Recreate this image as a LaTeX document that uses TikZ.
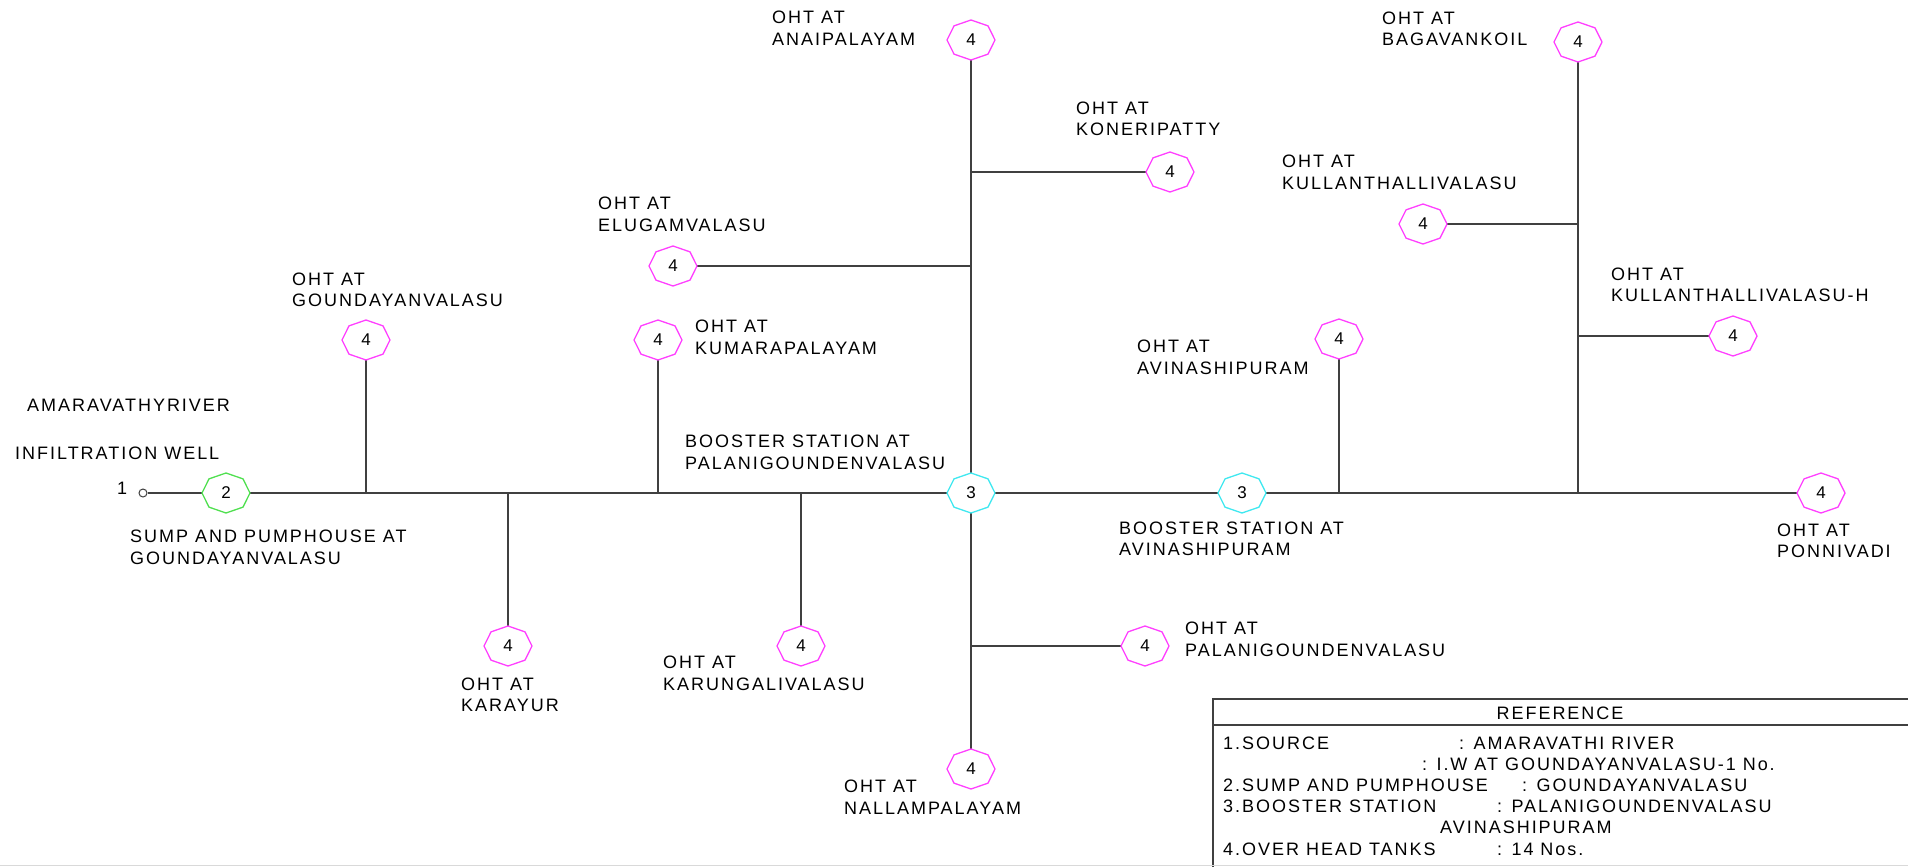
\documentclass[tikz,border=0pt]{standalone}
\usepackage{fontspec}
\setmainfont{Liberation Sans}[LetterSpace=11]
\newfontfamily\numfont{Liberation Sans}
\usetikzlibrary{calc}
\definecolor{ln}{HTML}{404040}
\definecolor{mag}{HTML}{FF40FF}
\definecolor{cya}{HTML}{40E8F0}
\definecolor{grn}{HTML}{50E050}
\tikzset{
 lbl/.style={anchor=west, inner sep=0pt, align=left, font=\fontsize{18}{21.5}\selectfont},
 tank/.style={rectangle, minimum width=48pt, minimum height=40pt, inner sep=0pt, font=\numfont\fontsize{17}{20}\selectfont},
 pipe/.style={draw=ln, line width=1.6pt},
 boxline/.style={draw=ln, line width=1.3pt},
}
\newcommand\octa[2]{\draw[#2, line width=1.3pt] ([shift={(#1.center)}]0:24pt and 20pt) \foreach \a in {45,90,...,315}{ -- ([shift={(#1.center)}]\a:24pt and 20pt)} -- cycle;}
\begin{document}
\begin{tikzpicture}[x=1pt,y=-1pt]
\useasboundingbox (0,0) rectangle (1908,867);
\fill[white] (0,0) rectangle (1908,867);
% nodes
\node[circle, draw=ln, line width=1pt, minimum size=8pt, inner sep=0pt] (w) at (143,493) {};
\node[tank] (n2) at (226,493) {2};
\node[tank] (oG) at (366,340) {4};
\node[tank] (oKy) at (508,646) {4};
\node[tank] (oKu) at (658,340) {4};
\node[tank] (oKg) at (801,646) {4};
\node[tank] (n3a) at (971,493) {3};
\node[tank] (oA) at (971,40) {4};
\node[tank] (oKo) at (1170,172) {4};
\node[tank] (oE) at (673,266) {4};
\node[tank] (oPG) at (1145,646) {4};
\node[tank] (oN) at (971,769) {4};
\node[tank] (n3b) at (1242,493) {3};
\node[tank] (oAv) at (1339,339) {4};
\node[tank] (oB) at (1578,42) {4};
\node[tank] (oKl) at (1423,224) {4};
\node[tank] (oKH) at (1733,336) {4};
\node[tank] (oP) at (1821,493) {4};
% junctions
\coordinate (jG) at (366,493);
\coordinate (jKy) at (508,493);
\coordinate (jKu) at (658,493);
\coordinate (jKg) at (801,493);
\coordinate (jKo) at (971,172);
\coordinate (jE) at (971,266);
\coordinate (jPG) at (971,646);
\coordinate (jAv) at (1339,493);
\coordinate (jR) at (1578,493);
\coordinate (jKl) at (1578,224);
\coordinate (jKH) at (1578,336);
% pipes
\draw[pipe] (w) -- (n2);
\draw[pipe] (n2) -- (n3a);
\draw[pipe] (n3a) -- (n3b);
\draw[pipe] (n3b) -- (oP);
\draw[pipe] (oG) -- (jG);
\draw[pipe] (jKy) -- (oKy);
\draw[pipe] (oKu) -- (jKu);
\draw[pipe] (jKg) -- (oKg);
\draw[pipe] (oA) -- (n3a);
\draw[pipe] (n3a) -- (oN);
\draw[pipe] (jKo) -- (oKo);
\draw[pipe] (oE) -- (jE);
\draw[pipe] (jPG) -- (oPG);
\draw[pipe] (oAv) -- (jAv);
\draw[pipe] (oB) -- (jR);
\draw[pipe] (oKl) -- (jKl);
\draw[pipe] (jKH) -- (oKH);
% octagons
\octa{n2}{grn}
\octa{n3a}{cya}
\octa{n3b}{cya}
\foreach \n in {oG,oKy,oKu,oKg,oA,oKo,oE,oPG,oN,oAv,oB,oKl,oKH,oP}{\octa{\n}{mag}}
% labels
\node[lbl] (tRiver) at (27,405) {AMARAVATHYRIVER};
\node[lbl] (tWell) at (15,453) {INFILTRATION WELL};
\node[lbl] (tOne) at (117,488) {1};
\node[lbl] (tSump) at (130,547.5) {SUMP AND PUMPHOUSE AT\\GOUNDAYANVALASU};
\node[lbl] (tG) at (292,290) {OHT AT\\GOUNDAYANVALASU};
\node[lbl] (tE) at (598,214.5) {OHT AT\\ELUGAMVALASU};
\node[lbl] (tKu) at (695,337.5) {OHT AT\\KUMARAPALAYAM};
\node[lbl] (tB1) at (685,452.5) {BOOSTER STATION AT\\PALANIGOUNDENVALASU};
\node[lbl] (tA) at (772,28) {OHT AT\\ANAIPALAYAM};
\node[lbl] (tKo) at (1076,119) {OHT AT\\KONERIPATTY};
\node[lbl] (tKy) at (461,695) {OHT AT\\KARAYUR};
\node[lbl] (tKg) at (663,673.5) {OHT AT\\KARUNGALIVALASU};
\node[lbl] (tN) at (844,797) {OHT AT\\NALLAMPALAYAM};
\node[lbl] (tPG) at (1185,639.5) {OHT AT\\PALANIGOUNDENVALASU};
\node[lbl] (tAv) at (1137,357.5) {OHT AT\\AVINASHIPURAM};
\node[lbl] (tB2) at (1119,539) {BOOSTER STATION AT\\AVINASHIPURAM};
\node[lbl] (tB) at (1382,29) {OHT AT\\BAGAVANKOIL};
\node[lbl] (tKl) at (1282,172.5) {OHT AT\\KULLANTHALLIVALASU};
\node[lbl] (tKH) at (1611,285) {OHT AT\\KULLANTHALLIVALASU-H};
\node[lbl] (tP) at (1777,541) {OHT AT\\PONNIVADI};
% reference box
\draw[boxline] (1912,699) -- (1213,699) -- (1213,868);
\draw[boxline] (1213,725) -- (1912,725);
\draw[draw=black!15, line width=1pt] (0,865.5) -- (1908,865.5);
\node[lbl, anchor=center] (rHead) at (1560,713) {REFERENCE};
\node[lbl] (r1a) at (1223,743) {1.SOURCE};
\node[lbl] (r1b) at (1459,743) {: AMARAVATHI RIVER};
\node[lbl] (r2b) at (1422,764) {: I.W AT GOUNDAYANVALASU-1 No.};
\node[lbl] (r3a) at (1223,785) {2.SUMP AND PUMPHOUSE};
\node[lbl] (r3b) at (1522,785) {: GOUNDAYANVALASU};
\node[lbl] (r4a) at (1223,806) {3.BOOSTER STATION};
\node[lbl] (r4b) at (1497,806) {: PALANIGOUNDENVALASU};
\node[lbl] (r5b) at (1440,827) {AVINASHIPURAM};
\node[lbl] (r6a) at (1223,849) {4.OVER HEAD TANKS};
\node[lbl] (r6b) at (1497,849) {: 14 Nos.};
\end{tikzpicture}
\end{document}
